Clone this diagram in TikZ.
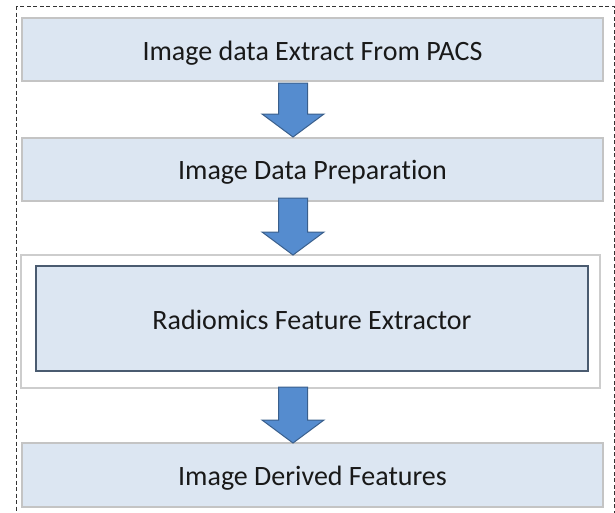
\documentclass[tikz,border=0pt]{standalone}
\usepackage{fontspec}
\setmainfont[Ligatures={NoCommon}]{Carlito}
\usetikzlibrary{calc}
\definecolor{boxfill}{HTML}{DCE6F2}
\definecolor{boxline}{HTML}{C4C4C4}
\definecolor{arrowfill}{HTML}{558CCF}
\definecolor{arrowline}{HTML}{3A5F8C}
\definecolor{innerline}{HTML}{4A5B70}
\tikzset{
  stagebox/.style={draw=boxline, line width=2pt, fill=boxfill, minimum width=581pt, inner sep=0pt, text height=21pt, text depth=0pt, font=\fontsize{28}{32}\selectfont, text=black!90},
  outerbox/.style={draw=boxline!85, line width=2pt, fill=white, minimum width=579pt, minimum height=133pt, inner sep=0pt},
  innerbox/.style={draw=innerline, line width=2pt, fill=boxfill, minimum width=552pt, minimum height=105pt, inner sep=0pt, text height=21pt, text depth=0pt, font=\fontsize{28}{32}\selectfont, text=black!90},
  blockarrow/.style={draw=arrowline, line width=1pt, fill=arrowfill, line join=miter},
  frame/.style={draw=black!80, line width=1pt, dash pattern=on 4pt off 2.5pt}
}
\newcommand\blockarr[2]{%
  \path[blockarrow] let \p1=(#1), \p2=(#2) in
    (\x1-14.5pt,\y1) -- (\x1+14.5pt,\y1) -- (\x1+14.5pt,\y2+23pt) -- (\x1+31pt,\y2+23pt)
    -- (\x1,\y2) -- (\x1-31pt,\y2+23pt) -- (\x1-14.5pt,\y2+23pt) -- cycle;}
\begin{document}
\begin{tikzpicture}[x=1pt,y=-1pt]
\useasboundingbox (0,0) rectangle (615,512);
\path[clip] (0,0) rectangle (615,512);
\draw[frame] (16,6) rectangle (614,530);
\node[stagebox, minimum height=63pt] (b1) at (312.5,49.5) {Image data Extract From PACS};
\node[stagebox, minimum height=63pt] (b2) at (312.5,169) {Image Data Preparation};
\node[outerbox] (b3o) at (310.5,321.5) {};
\node[innerbox] (b3) at (312,318.5) {Radiomics Feature Extractor};
\node[stagebox, minimum height=64pt] (b4) at (312.5,474.5) {Image Derived Features};
\coordinate (a1s) at (293,83);  \coordinate (a1e) at (293,137);
\coordinate (a2s) at (293,198); \coordinate (a2e) at (293,255);
\coordinate (a3s) at (293,387); \coordinate (a3e) at (293,443);
\blockarr{a1s}{a1e}
\blockarr{a2s}{a2e}
\blockarr{a3s}{a3e}
\end{tikzpicture}
\end{document}
